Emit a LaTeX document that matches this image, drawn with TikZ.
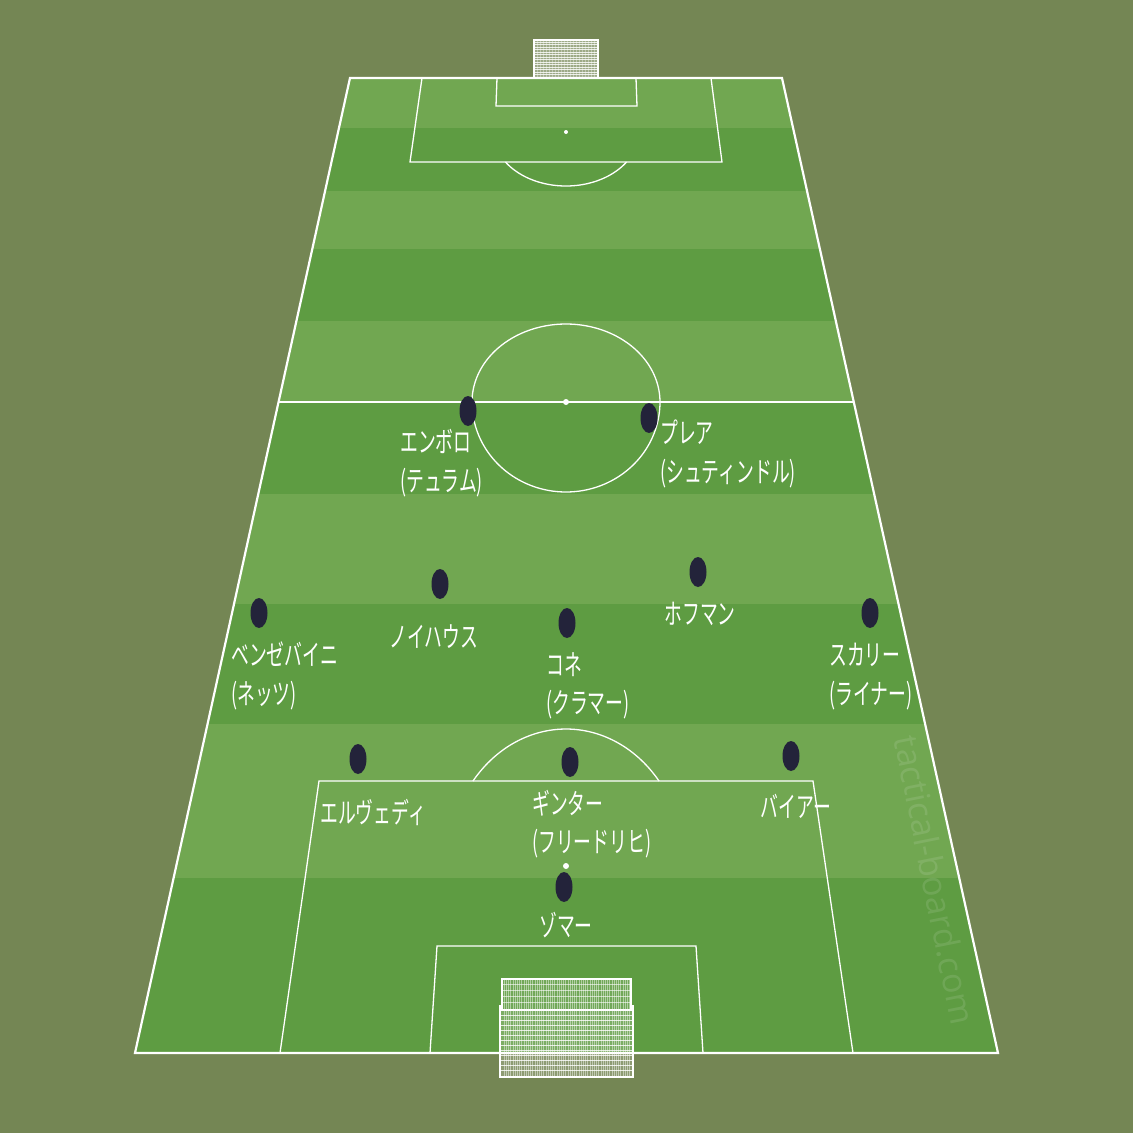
\documentclass[tikz,border=0pt]{standalone}
\usepackage{fontspec}
\newfontfamily\jpfont[FakeStretch=0.625]{Noto Sans CJK JP}
\newfontfamily\wmfont{Open Sans}
\usetikzlibrary{shapes.geometric}
\definecolor{bg}{HTML}{748654}
\definecolor{stripeA}{HTML}{71A751}
\definecolor{stripeB}{HTML}{5E9C42}
\definecolor{playerc}{HTML}{23233A}
\begin{document}
\begin{tikzpicture}[x=1pt,y=-1pt,
  player/.style={ellipse, fill=playerc, minimum width=17pt, minimum height=30pt, inner sep=0pt},
  lbl/.style={text=white, font=\jpfont\fontsize{28.5}{38.5}\selectfont, align=left, inner sep=0pt},
  fieldline/.style={draw=white, line width=1.3pt},
  outline/.style={draw=white, line width=2.2pt},
  netline/.style={white, line width=0.45pt}]

\useasboundingbox (0,0) rectangle (1133,1133);
\fill[bg] (0,0) rectangle (1133,1133);

% field stripes
\begin{scope}
  \clip (350,78) -- (782,78) -- (998,1053) -- (135,1053) -- cycle;
  \fill[stripeA] (0,78) rectangle (1133,1053);
  \foreach \a/\b in {128/191, 249/321, 402/494, 604/724, 878/1053}
    \fill[stripeB] (0,\a) rectangle (1133,\b);
  \node[rotate=-78.7, text=white, opacity=0.11, font=\wmfont\fontsize{34}{34}\selectfont] (wm) at (935,880) {tactical-board.com};
\end{scope}

% outline and halfway line
\draw[outline] (350,78) -- (782,78) -- (998,1053) -- (135,1053) -- cycle;
\draw[fieldline] (278.6,402) -- (853.8,402);

% centre circle
\draw[fieldline] plot[domain=180:360, samples=80] ({566+94*cos(\x)},{402+78*sin(\x)});
\draw[fieldline] plot[domain=0:180, samples=80] ({566+94*cos(\x)},{402+90*sin(\x)});
\fill[white] (566,402) circle (3);

% top penalty area
\draw[fieldline] (422,78) -- (410,162) -- (722,162) -- (711,78);
\draw[fieldline] (497,78) -- (496,106) -- (637,106) -- (636,78);
\draw[fieldline] plot[domain=33.75:146.25, samples=50] ({566+72.8*cos(\x)},{132+54*sin(\x)});
\fill[white] (566,132) circle (2);

% bottom penalty area
\draw[fieldline] (280,1053) -- (319,781) -- (813,781) -- (853,1053);
\draw[fieldline] (430,1053) -- (437,946) -- (696,946) -- (703,1053);
\draw[fieldline] plot[domain=218.3:321.7, samples=60] ({566+118.6*cos(\x)},{866+137*sin(\x)});
\fill[white] (566,866) circle (3);

% top goal
\fill[white, opacity=0.30] (534,40) rectangle (598,78);
\foreach \y in {42,44.5,...,77} \draw[netline, opacity=0.8] (534,\y) -- (598,\y);
\foreach \x in {537,540,...,596} \draw[netline, opacity=0.35] (\x,40) -- (\x,78);
\draw[white, line width=1.2pt] (534,78) -- (534,40) -- (598,40) -- (598,78);

% bottom goal
\fill[white, opacity=0.12] (502,978) rectangle (631,1010);
\fill[white, opacity=0.18] (500,1010) rectangle (633,1077);
\foreach \x in {504,506.2,...,630} \draw[netline, opacity=0.45] (\x,978) -- (\x,1077);
\foreach \y in {984,990,...,1006} \draw[netline, opacity=0.6] (502,\y) -- (631,\y);
\foreach \y in {1015,1020,...,1074} \draw[netline, opacity=0.8] (500,\y) -- (633,\y);
\draw[white, line width=2.4pt] (502,979) -- (631,979);
\draw[white, line width=1.2pt] (502,978) -- (502,1010) (631,978) -- (631,1010);
\draw[white, line width=2pt] (500,1010) -- (633,1010);
\draw[white, line width=1.2pt] (500,1005) -- (500,1077) -- (633,1077) -- (633,1005);

% players
\node[player] (embolo) at (468,411) {};
\node[player] (plea) at (649,418) {};
\node[player] (neuhaus) at (440,584) {};
\node[player] (hofmann) at (698,572) {};
\node[player] (bensebaini) at (259,613) {};
\node[player] (kone) at (567,623) {};
\node[player] (scally) at (870,613) {};
\node[player] (elvedi) at (358,759) {};
\node[player] (ginter) at (570,762) {};
\node[player] (beyer) at (791,756) {};
\node[player] (sommer) at (564,887) {};

% labels
\node[lbl, anchor=west] (embolo-l) at (400,463) {エンボロ\\(テュラム)};
\node[lbl, anchor=west] (plea-l) at (660,454) {プレア\\(シュティンドル)};
\node[lbl] (neuhaus-l) at (434,637) {ノイハウス};
\node[lbl] (hofmann-l) at (700,614) {ホフマン};
\node[lbl, anchor=west] (bensebaini-l) at (231,676) {ベンゼバイニ\\(ネッツ)};
\node[lbl, anchor=west] (kone-l) at (546,686) {コネ\\(クラマー)};
\node[lbl, anchor=west] (scally-l) at (829,676.5) {スカリー\\(ライナー)};
\node[lbl] (elvedi-l) at (373,812) {エルヴェディ};
\node[lbl, anchor=west] (ginter-l) at (532,824) {ギンター\\(フリードリヒ)};
\node[lbl] (beyer-l) at (796,806) {バイアー};
\node[lbl] (sommer-l) at (566,925) {ゾマー};
\end{tikzpicture}
\end{document}
